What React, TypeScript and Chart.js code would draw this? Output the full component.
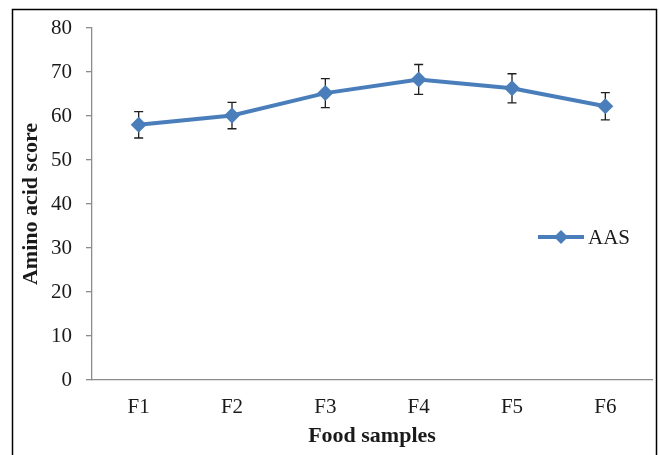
import React, { useEffect, useRef } from "react";
import { Chart, registerables } from "chart.js";

Chart.register(...registerables);

const categories = ["F1", "F2", "F3", "F4", "F5", "F6"];
const aasValues = [58.0, 60.1, 65.2, 68.3, 66.3, 62.2];
const aasErrors = [3.0, 3.0, 3.3, 3.4, 3.3, 3.1];
const yTicks = [0, 10, 20, 30, 40, 50, 60, 70, 80];

const LINE_COLOR = "#4A7EBB";
const SERIF = "'Liberation Serif', 'Times New Roman', serif";
const TEXT = "#1a1a1a";

const framePlugin = {
  id: "frame",
  beforeDraw(chart: any) {
    const ctx = chart.ctx;
    ctx.save();
    ctx.fillStyle = "#ffffff";
    ctx.fillRect(0, 0, chart.width, chart.height);
    ctx.strokeStyle = "#000000";
    ctx.lineWidth = 1.5;
    ctx.strokeRect(12.5, 9.5, 644, 500);
    ctx.restore();
  },
};

const errorBarPlugin = {
  id: "errorBars",
  beforeDatasetsDraw(chart: any) {
    const ctx = chart.ctx;
    const xs = chart.scales.x;
    const ys = chart.scales.y;
    ctx.save();
    ctx.strokeStyle = "#1f1f1f";
    ctx.lineWidth = 1.3;
    aasValues.forEach((v, i) => {
      const x = xs.getPixelForValue(i);
      const yTop = ys.getPixelForValue(v + aasErrors[i]);
      const yBot = ys.getPixelForValue(v - aasErrors[i]);
      ctx.beginPath();
      ctx.moveTo(x, yTop);
      ctx.lineTo(x, yBot);
      ctx.moveTo(x - 4.5, yTop);
      ctx.lineTo(x + 4.5, yTop);
      ctx.moveTo(x - 4.5, yBot);
      ctx.lineTo(x + 4.5, yBot);
      ctx.stroke();
    });
    ctx.restore();
  },
};

const legendPlugin = {
  id: "customLegend",
  afterDraw(chart: any) {
    const ctx = chart.ctx;
    const ds = chart.data.datasets[0];
    const y = 237;
    ctx.save();
    ctx.strokeStyle = LINE_COLOR;
    ctx.lineWidth = 4;
    ctx.beginPath();
    ctx.moveTo(538, y);
    ctx.lineTo(584, y);
    ctx.stroke();
    ctx.fillStyle = LINE_COLOR;
    ctx.beginPath();
    ctx.moveTo(561 - 7, y);
    ctx.lineTo(561, y - 7);
    ctx.lineTo(561 + 7, y);
    ctx.lineTo(561, y + 7);
    ctx.closePath();
    ctx.fill();
    ctx.fillStyle = TEXT;
    ctx.font = `21px ${SERIF}`;
    ctx.textBaseline = "middle";
    ctx.textAlign = "left";
    ctx.fillText(ds.label, 588, y + 1);
    ctx.restore();
  },
};

export default function App() {
  const canvasRef = useRef<HTMLCanvasElement | null>(null);

  useEffect(() => {
    if (!canvasRef.current) return;
    const chart = new Chart(canvasRef.current, {
      type: "line",
      data: {
        labels: categories,
        datasets: [
          {
            label: "AAS",
            data: aasValues,
            borderColor: LINE_COLOR,
            backgroundColor: LINE_COLOR,
            borderWidth: 4,
            pointStyle: "rectRot",
            pointRadius: 8,
            pointBackgroundColor: LINE_COLOR,
            pointBorderColor: LINE_COLOR,
            pointBorderWidth: 0,
            tension: 0,
          },
        ],
      },
      options: {
        responsive: false,
        animation: false,
        layout: { padding: { left: 12, right: 4, top: 28, bottom: 5 } },
        plugins: {
          legend: { display: false },
          tooltip: { enabled: false },
        },
        scales: {
          x: {
            type: "category",
            offset: true,
            grid: { display: false, drawTicks: false },
            border: { display: true, color: "#8c8c8c", width: 1.3 },
            ticks: {
              padding: 15,
              color: TEXT,
              font: { family: SERIF, size: 21 },
              maxRotation: 0,
            },
            title: {
              display: true,
              text: "Food samples",
              color: TEXT,
              font: { family: SERIF, size: 22, weight: "bold" },
              padding: { top: 0, bottom: 0 },
            },
            afterFit: (s: any) => {
              s.height = 70;
            },
          },
          y: {
            min: 0,
            max: 80,
            afterBuildTicks: (s: any) => {
              s.ticks = yTicks.map((v) => ({ value: v }));
            },
            grid: {
              display: true,
              drawOnChartArea: false,
              drawTicks: true,
              tickLength: 6,
              color: "#8c8c8c",
              lineWidth: 1.3,
            },
            border: { display: true, color: "#8c8c8c", width: 1.3 },
            ticks: {
              padding: 14,
              color: TEXT,
              font: { family: SERIF, size: 21 },
            },
            title: {
              display: true,
              text: "Amino acid score",
              color: TEXT,
              font: { family: SERIF, size: 22, weight: "bold" },
              padding: { top: 6, bottom: 0 },
            },
            afterFit: (s: any) => {
              s.width = 80;
            },
          },
        },
      },
      plugins: [framePlugin, errorBarPlugin, legendPlugin],
    });
    return () => chart.destroy();
  }, []);

  return (
    <canvas
      ref={canvasRef}
      width={660}
      height={455}
      style={{ position: "absolute", left: 0, top: 0, display: "block" }}
    />
  );
}
